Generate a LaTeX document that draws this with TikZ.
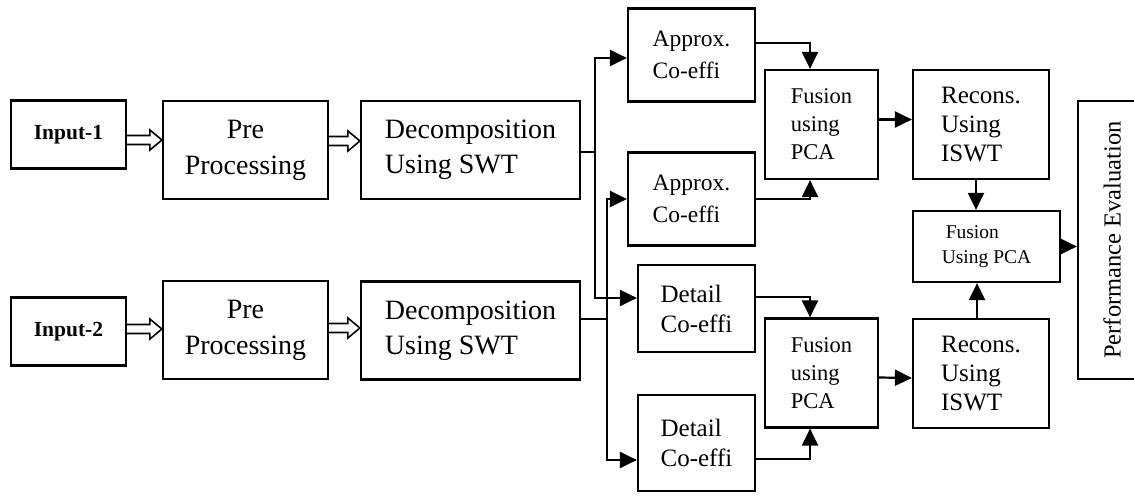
\documentclass[tikz,border=0pt]{standalone}
\usepackage{fontspec}
\setmainfont{Liberation Serif}
\usetikzlibrary{arrows.meta,calc}

\newcommand\fs[2]{\fontsize{#1}{#2}\selectfont}

% hollow block arrow from the east side of #1 to the west side of #2, at height #3
\newcommand\hollowarrow[3]{%
  \coordinate (hs) at (#1.east |- 0,#3);
  \coordinate (he) at (#2.west |- 0,#3);
  \draw[hollow] ($(hs)+(0,-4.5)$) -- ($(he)+(-12,-4.5)$) -- ($(he)+(-12,-10)$)
    -- (he) -- ($(he)+(-12,10)$) -- ($(he)+(-12,4.5)$) -- ($(hs)+(0,4.5)$);}

\begin{document}
\begin{tikzpicture}[x=1pt,y=-1pt,
  box/.style={draw, line width=2.2pt, inner sep=0pt, align=left},
  arr/.style={line width=2.2pt, -{Triangle[length=17pt,width=16pt]}},
  hollow/.style={line width=1.6pt, line join=miter},
  inbox/.style={box, align=center, minimum width=115pt, minimum height=68pt, font=\fs{21.5}{25}\bfseries},
  prebox/.style={box, align=center, minimum width=165pt, minimum height=98pt, font=\fs{28}{36}},
  decbox/.style={box, minimum width=219pt, minimum height=98pt, font=\fs{28}{35}},
  apbox/.style={box, minimum width=127pt, minimum height=93pt, font=\fs{23.5}{32}},
  debox/.style={box, minimum width=117pt, font=\fs{25}{30}},
  fubox/.style={box, minimum width=113pt, minimum height=109pt, font=\fs{22.5}{28}},
  rebox/.style={box, minimum width=136pt, minimum height=109pt, font=\fs{25}{29}},
  pebox/.style={box, align=none, rotate=90, minimum width=278pt, minimum height=68pt, font=\fs{24.5}{28}},
]
\useasboundingbox (0,0) rectangle (1134,495);
\clip (0,0) rectangle (1134,495);

% input branches
\node[inbox]  (in1)  at (68.5,134.5) {Input-1};
\node[prebox] (pre1) at (245.5,150)  {Pre\\Processing};
\node[decbox] (dec1) at (470.5,150)  {Decomposition\\Using SWT};

\node[inbox]  (in2)  at (68.5,331.5) {Input-2};
\node[prebox] (pre2) at (245.5,330)  {Pre\\Processing};
\node[decbox] (dec2) at (470.5,330.5) {Decomposition\\Using SWT};

% coefficient boxes
\node[apbox] (ap1) at (691.5,55)  {Approx.\\Co-effi};
\node[apbox] (ap2) at (691.5,199) {Approx.\\Co-effi};
\node[debox, minimum height=87pt] (de1) at (696.5,308.5) {Detail\\Co-effi};
\node[debox, minimum height=96pt] (de2) at (696.5,443)   {Detail\\Co-effi};

% fusion and reconstruction
\node[fubox] (fu1) at (821.5,124.5) {Fusion\\using\\PCA};
\node[fubox] (fu2) at (821.5,373)   {Fusion\\using\\PCA};
\node[rebox] (re1) at (981,124.5)   {Recons.\\Using\\ISWT};
\node[rebox] (re2) at (981,373.5)   {Recons.\\Using\\ISWT};
\node[box, minimum width=147pt, minimum height=71pt, font=\fs{19.5}{25}] (fu3) at (986.5,246.5) {\hspace*{4pt}Fusion\\Using PCA};
\node[pebox] (pe) at (1112,240) {Performance Evaluation\hspace{18pt}};

% block arrows
\hollowarrow{in1}{pre1}{140}
\hollowarrow{pre1}{dec1}{141}
\hollowarrow{in2}{pre2}{329}
\hollowarrow{pre2}{dec2}{328}

% splitting the decompositions
\coordinate (j1) at (595,152);
\coordinate (j2) at (607,319);
\draw[line width=2.2pt] (dec1.east |- j1) -- (j1);
\draw[arr] (j1) |- ([yshift=-3pt]ap1.west);
\draw[arr] (j1) |- ([yshift=10.5pt]de1.west);
\draw[line width=2.2pt] (dec2.east |- j2) -- (j2);
\draw[arr] (j2) |- (ap2.west);
\draw[arr] (j2) |- ([yshift=-17pt]de2.west);

% coefficients into fusion
\draw[arr] ([yshift=12pt]ap1.east) -| ([xshift=-11.5pt]fu1.north);
\draw[arr] (ap2.east) -| ([xshift=-11.5pt]fu1.south);
\draw[arr] ([yshift=11.5pt]de1.east) -| ([xshift=-11.5pt]fu2.north);
\draw[arr] ([yshift=-16pt]de2.east) -| ([xshift=-11.5pt]fu2.south);

% fusion to reconstruction
\draw[arr] ([yshift=5pt]fu1.east) -- ([yshift=5pt]re1.west);
\draw[arr] ([yshift=-4.5pt]fu2.east) -- ([yshift=-4.5pt]re2.west);

% reconstructions into final fusion
\draw[arr] ([xshift=-5pt]re1.south) -- ([xshift=-5pt]re1.south |- fu3.north);
\draw[arr] ([xshift=-4pt]re2.north) -- ([xshift=-4pt]re2.north |- fu3.south);
\draw[arr] (fu3.east) -- (fu3.east -| pe.north);
\end{tikzpicture}
\end{document}
